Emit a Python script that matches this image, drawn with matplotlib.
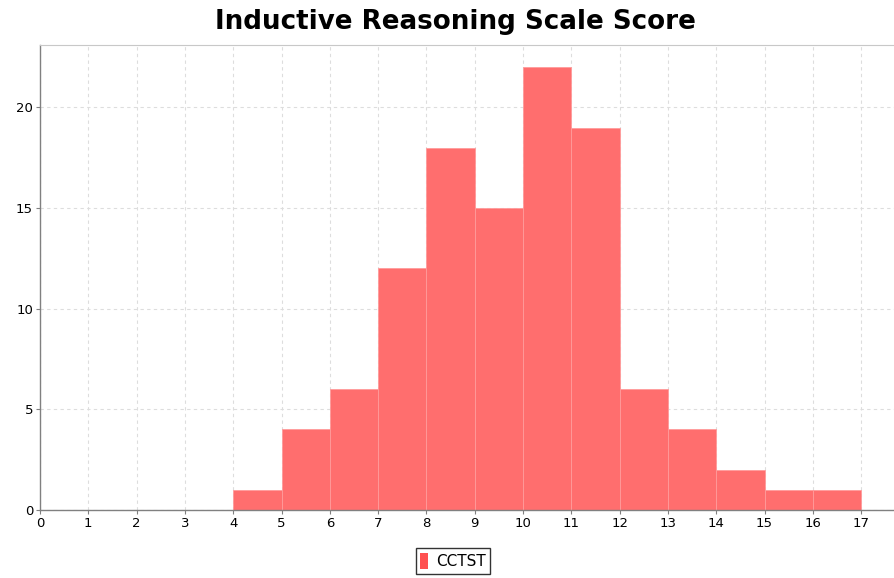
import numpy as np
import matplotlib.pyplot as plt
from matplotlib.patches import Patch

# Histogram bins (left edges) and counts
bin_edges = [4, 5, 6, 7, 8, 9, 10, 11, 12, 13, 14, 15, 16, 17]
counts = [1, 4, 6, 12, 18, 15, 22, 19, 6, 4, 2, 1, 1]
series_name = 'CCTST'
title = 'Inductive Reasoning Scale Score'
x_ticks = list(range(0, 18))
y_ticks = [0, 5, 10, 15, 20]

fig = plt.figure(figsize=(8.94, 5.78), dpi=100)
ax = fig.add_axes([40 / 894, 68 / 578, 1.0 - 40 / 894, (510 - 45) / 578])

bar_color = '#ff6e6e'
ax.bar(bin_edges[:-1], counts, width=np.diff(bin_edges), align='edge',
       color=bar_color, edgecolor='#ff9b9b', linewidth=0.6, zorder=2)

ax.set_xlim(0, 17.68)
ax.set_ylim(0, 23.1)
ax.set_xticks(x_ticks)
ax.set_yticks(y_ticks)
ax.tick_params(labelsize=9.5, length=3, color='#808080', pad=2)

# Grid
ax.grid(True, linestyle=(0, (3, 3)), color='#dddddd', linewidth=0.8, zorder=0)
ax.set_axisbelow(True)

for side in ['left', 'bottom']:
    ax.spines[side].set_color('#808080')
    ax.spines[side].set_linewidth(1.0)
ax.spines['top'].set_color('#c8c8c8')
ax.spines['right'].set_visible(False)

fig.suptitle(title, fontsize=18.8, fontweight='bold', x=455 / 894, y=1 - 22 / 578, va='center')

leg = fig.legend([Patch(facecolor='#ff5050')], [series_name], loc='center',
                 bbox_to_anchor=(453 / 894, 1 - 561 / 578), fontsize=11,
                 frameon=True, fancybox=False, handlelength=0.5, handleheight=1.2,
                 handletextpad=0.5, borderpad=0.3)
leg.get_frame().set_edgecolor('black')
leg.get_frame().set_linewidth(1.0)

plt.savefig('out.png', dpi=100)
